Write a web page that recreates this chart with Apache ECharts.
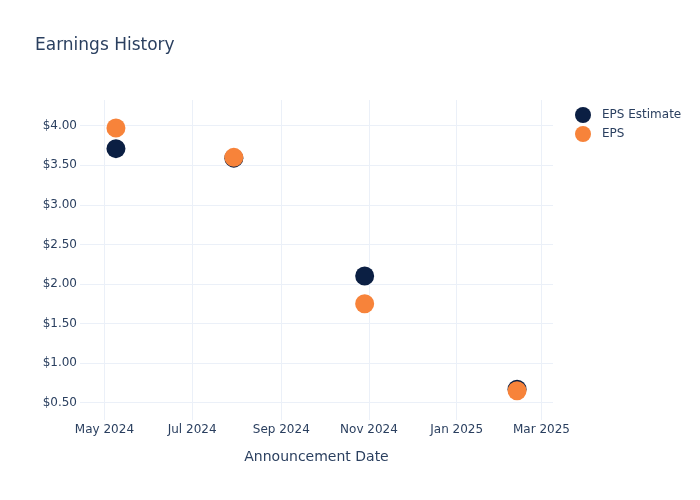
<!DOCTYPE html>
<html>
<head>
    <meta charset="utf-8" />
    <title>Earnings History</title>
    <style>
        body { margin: 0; padding: 0; background: #fff; }
        #chart { width: 700px; height: 500px; }
    </style>
    <script src="https://cdn.jsdelivr.net/npm/echarts@6/dist/echarts.min.js"></script>
</head>
<body>
    <div id="chart"></div>
    <script type="text/javascript">
        // announcement dates (UTC)
        var dates = ['2024-05-09', '2024-07-30', '2024-10-29', '2025-02-12'];
        var epsEstimate = [3.71, 3.59, 2.10, 0.67];
        var eps = [3.97, 3.60, 1.75, 0.65];
        var xTicks = ['2024-05-01', '2024-07-01', '2024-09-01', '2024-11-01', '2025-01-01', '2025-03-01'];
        var yTicks = [0.5, 1, 1.5, 2, 2.5, 3, 3.5, 4];
        var months = ['Jan', 'Feb', 'Mar', 'Apr', 'May', 'Jun', 'Jul', 'Aug', 'Sep', 'Oct', 'Nov', 'Dec'];

        function ts(s) {
            var p = s.split('-');
            return Date.UTC(+p[0], +p[1] - 1, +p[2]);
        }

        var textColor = '#2a3f5f';
        var gridColor = '#ebf0f8';
        var font = 'DejaVu Sans';

        var chart = echarts.init(document.getElementById('chart'));
        chart.setOption({
            animation: false,
            backgroundColor: '#fff',
            textStyle: { fontFamily: font },
            title: {
                text: 'Earnings History',
                left: 30,
                top: 32,
                textStyle: { color: textColor, fontSize: 17, fontWeight: 'normal', fontFamily: font }
            },
            legend: {
                orient: 'vertical',
                left: 570,
                top: 102,
                icon: 'circle',
                itemWidth: 28,
                itemHeight: 16,
                itemGap: 3,
                textStyle: { color: textColor, fontSize: 12, fontFamily: font },
                data: ['EPS Estimate', 'EPS']
            },
            grid: { left: 80, right: 147, top: 100, bottom: 80 },
            xAxis: {
                type: 'value',
                min: ts('2024-04-14'),
                max: ts('2025-03-09'),
                name: 'Announcement Date',
                nameLocation: 'middle',
                nameGap: 30,
                nameTextStyle: { color: textColor, fontSize: 14, fontFamily: font },
                axisLine: { show: false },
                axisTick: { show: false, customValues: xTicks.map(ts) },
                axisLabel: {
                    customValues: xTicks.map(ts),
                    color: textColor,
                    fontSize: 12,
                    margin: 4,
                    formatter: function (v) {
                        var d = new Date(v);
                        return months[d.getUTCMonth()] + ' ' + d.getUTCFullYear();
                    }
                },
                splitLine: { show: true, lineStyle: { color: gridColor, width: 1 } }
            },
            yAxis: {
                type: 'value',
                min: 0.28,
                max: 4.325,
                axisLine: { show: false },
                axisTick: { show: false, customValues: yTicks },
                axisLabel: {
                    customValues: yTicks,
                    color: textColor,
                    fontSize: 12,
                    margin: 3,
                    formatter: function (v) { return '$' + v.toFixed(2); }
                },
                splitLine: { show: true, lineStyle: { color: gridColor, width: 1 } }
            },
            series: [{
                name: 'EPS Estimate',
                type: 'scatter',
                symbolSize: 19,
                itemStyle: { color: '#0b1f43', opacity: 1 },
                data: dates.map(function (d, i) { return [ts(d), epsEstimate[i]]; })
            }, {
                name: 'EPS',
                type: 'scatter',
                symbolSize: 19,
                itemStyle: { color: '#f7833a', opacity: 1 },
                data: dates.map(function (d, i) { return [ts(d), eps[i]]; })
            }]
        });
    </script>
</body>
</html>
